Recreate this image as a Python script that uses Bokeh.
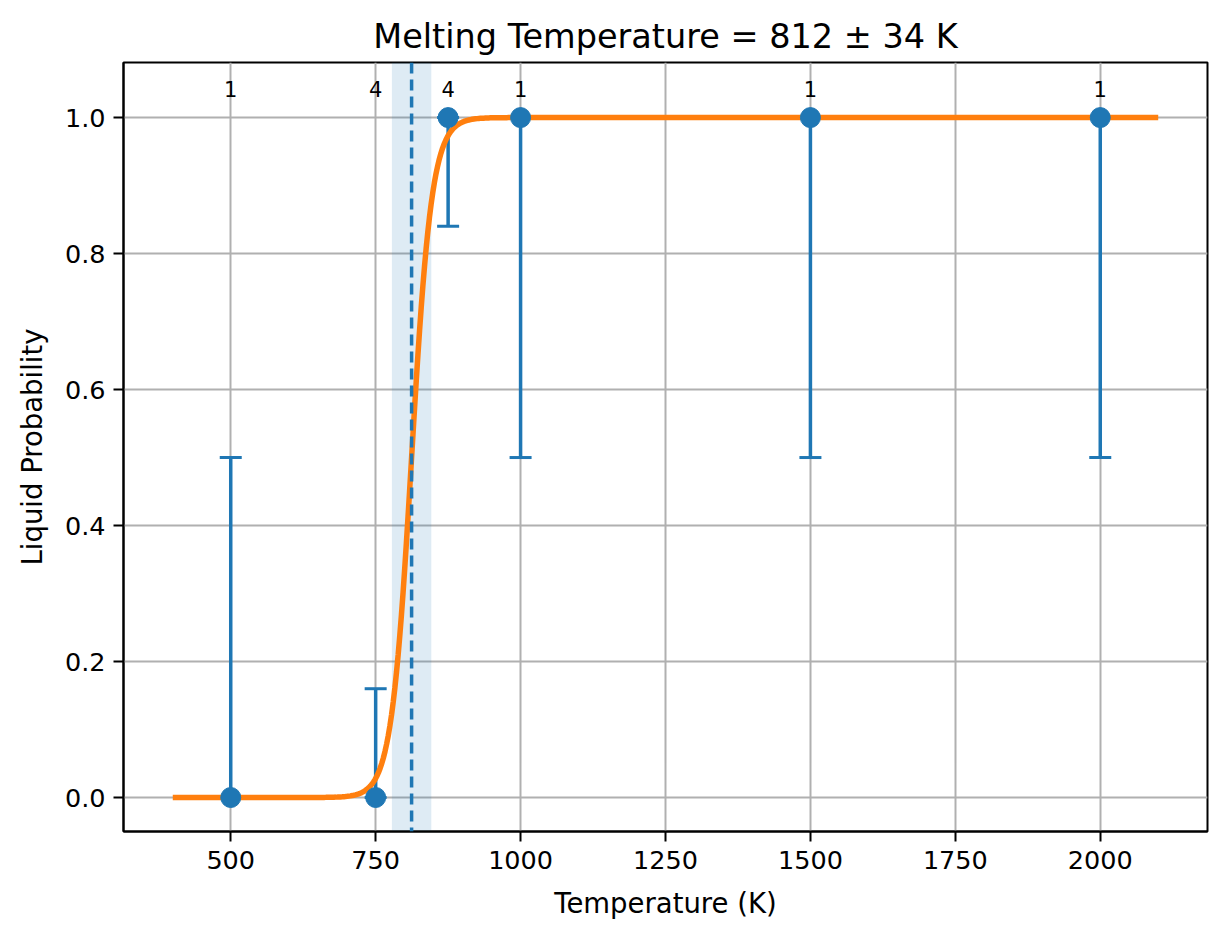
import numpy as np
from bokeh.plotting import figure
from bokeh.models import Range1d, FixedTicker, PrintfTickFormatter, Span, BoxAnnotation, ColumnDataSource
from bokeh.core.properties import value
from bokeh.embed import file_html
from bokeh.resources import INLINE

# Data
temps = [500, 750, 875, 1000, 1500, 2000]
liquid_prob = [0.0, 0.0, 1.0, 1.0, 1.0, 1.0]
err_low = [0.0, 0.0, 0.84, 0.5, 0.5, 0.5]
err_high = [0.5, 0.16, 1.0, 1.0, 1.0, 1.0]
counts = ["1", "4", "4", "1", "1", "1"]
count_y = [1.03] * 6

# Fitted sigmoid parameters
melt_T = 812.0
melt_err = 34.0
fit_width = 17.5
curve_T = np.linspace(400, 2100, 600)
curve_p = 1.0 / (1.0 + np.exp(-(curve_T - melt_T) / fit_width))

x_ticks = [500, 750, 1000, 1250, 1500, 1750, 2000]
y_ticks = [0.0, 0.2, 0.4, 0.6, 0.8, 1.0]

BLUE = "#1f77b4"
ORANGE = "#ff7f0e"
FONT = "DejaVu Sans"

p = figure(width=1223, height=931, output_backend="svg", toolbar_location=None,
           x_range=Range1d(315, 2185), y_range=Range1d(-0.05, 1.081),
           min_border_left=123, min_border_right=16, min_border_top=62, min_border_bottom=100,
           title="Melting Temperature = 812 ± 34 K")

p.title.text_font = FONT
p.title.text_font_size = "33.5px"
p.title.text_font_style = "normal"
p.title.align = "center"
p.title.text_color = "black"
p.title.standoff = 14

p.outline_line_color = "black"
p.outline_line_width = 2
p.outline_line_alpha = 1

for ax in (p.xaxis, p.yaxis):
    ax.axis_line_color = "black"
    ax.axis_line_width = 2
    ax.major_tick_line_color = "black"
    ax.major_tick_line_width = 2
    ax.major_tick_out = 10
    ax.major_tick_in = 0
    ax.minor_tick_line_color = None
    ax.major_label_text_font = FONT
    ax.major_label_text_font_size = "25.5px"
    ax.major_label_text_color = "black"
    ax.axis_label_text_font = FONT
    ax.axis_label_text_font_size = "27.5px"
    ax.axis_label_text_font_style = "normal"
    ax.axis_label_text_color = "black"

p.xaxis.ticker = FixedTicker(ticks=x_ticks)
p.yaxis.ticker = FixedTicker(ticks=y_ticks)
p.yaxis.formatter = PrintfTickFormatter(format="%.1f")
p.xaxis.axis_label = "Temperature (K)"
p.yaxis.axis_label = "Liquid Probability"
p.xaxis.major_label_standoff = 9
p.yaxis.major_label_standoff = 8
p.xaxis.axis_label_standoff = 15
p.yaxis.axis_label_standoff = 14

p.grid.grid_line_color = "#b0b0b0"
p.grid.grid_line_width = 2

band = BoxAnnotation(left=melt_T - melt_err, right=melt_T + melt_err,
                     fill_color=BLUE, fill_alpha=0.15, line_color=None, level="underlay")
p.add_layout(band)

src = ColumnDataSource(dict(t=temps, p=liquid_prob, lo=err_low, hi=err_high,
                            n=counts, ny=count_y))

p.segment(x0="t", y0="lo", x1="t", y1="hi", source=src, line_color=BLUE, line_width=3.5)
p.scatter(x="t", y="lo", source=src, marker="dash", size=22, line_color=BLUE, line_width=3)
p.scatter(x="t", y="hi", source=src, marker="dash", size=22, line_color=BLUE, line_width=3)

p.line(curve_T, curve_p, line_color=ORANGE, line_width=5.5)

p.scatter(x="t", y="p", source=src, marker="circle", size=20, fill_color=BLUE, line_color=BLUE)

p.text(x="t", y="ny", text="n", source=src, text_align="center", text_baseline="bottom",
       text_font=value(FONT), text_font_size="21px", text_color="black")

vline = Span(location=melt_T, dimension="height", line_color=BLUE, line_width=3.5,
             line_dash="11 6")
p.add_layout(vline)

open("out.html", "w").write(file_html(p, INLINE))
